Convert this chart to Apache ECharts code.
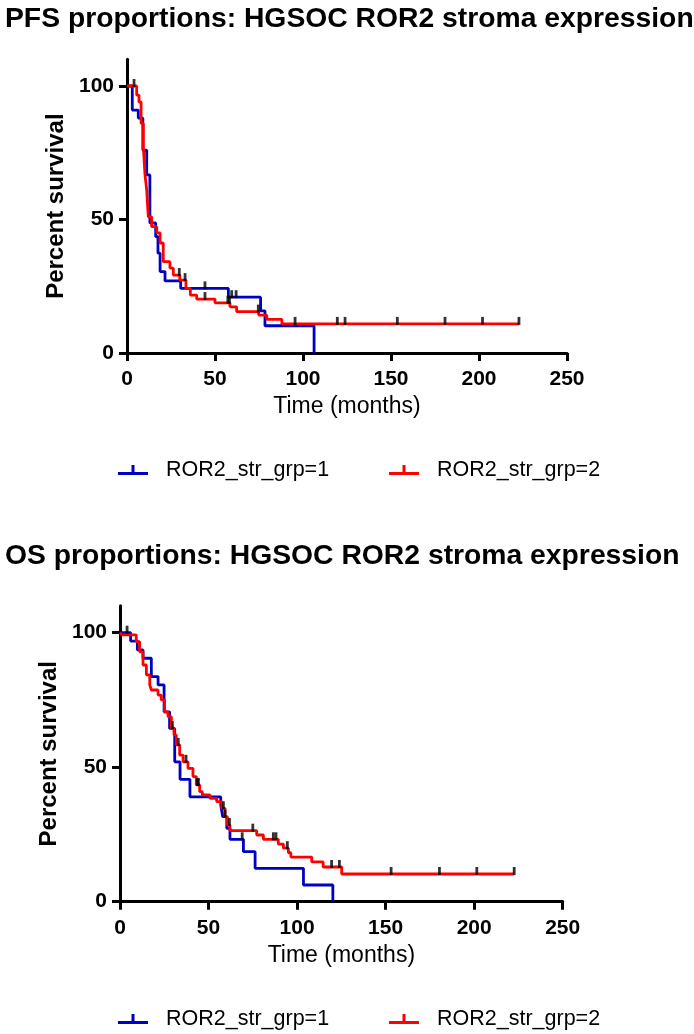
<!DOCTYPE html>
<html><head><meta charset="utf-8">
<script src="https://cdn.jsdelivr.net/npm/echarts@6/dist/echarts.min.js"></script>
<style>html,body{margin:0;padding:0;background:#fff}#c{width:694px;height:1034px}</style>
</head><body><div id="c"></div>
<script>
const pfsTitle = 'PFS proportions: HGSOC ROR2 stroma expression';
const osTitle = 'OS proportions: HGSOC ROR2 stroma expression';
const groupNames = ['ROR2_str_grp=1', 'ROR2_str_grp=2'];
const xAxisName = 'Time (months)';
const yAxisName = 'Percent survival';
const yTickValues = [0, 50, 100];

// PFS, group 1 (blue): [time, survival after drop]
const pfsGrp1 = [[0,100],[3,91],[6.4,88],[9,76],[11.2,66.7],[13,48.7],[16.3,43.6],[17.6,37.4],[18.8,30.5],[21.6,27],[30.5,24.2],[57.6,20.9],[75.9,15.8],[78.4,10.2],[106.3,0]];
const pfsGrp1Censor = [44.3, 59.5, 62];
// PFS, group 2 (red)
const pfsGrp2 = [[0,100],[5.5,96.6],[6.8,94],[8,86],[9.3,77],[10.2,67],[11.2,61],[12.1,51],[14,47.3],[16.9,45],[18.8,41.2],[20.6,34.2],[24.4,31.8],[26.3,29.2],[30,27.3],[33.5,24.2],[36,21.7],[39.6,20.2],[50,18.8],[58.5,17.3],[62.3,15.5],[74.8,14.2],[79.4,12.6],[88,10.9],[222.7,10.9]];
const pfsGrp2Censor = [4, 29.7, 33, 44.3, 57.3, 58.2, 74.6, 95.5, 119.5, 123.9, 153.6, 180.7, 202, 222.7];

// OS, group 1 (blue)
const osGrp1 = [[0,100],[6,96.9],[9.8,93.6],[13,90.5],[17.7,83.7],[21.5,80.6],[24.9,70.6],[28,64.4],[30.9,52],[33.9,45.5],[39.5,39],[56.9,35.9],[58,31.6],[60.3,27.3],[62.1,23.2],[69.7,18.6],[76.3,12.4],[103.6,6.2],[120.2,0]];
const osGrp1Censor = [4, 69];
// OS, group 2 (red)
const osGrp2 = [[0,100],[1,99.2],[7.3,99.2],[9.2,96.7],[11.1,92.9],[13,88],[14.9,84.3],[16.8,80.6],[17.7,78.7],[21.5,76.8],[23.3,75],[25.2,70.6],[27.1,68.8],[29,64.5],[30.5,62],[31.8,58.3],[33.7,54.5],[35.6,52],[38.4,49.6],[41.2,46.5],[43.1,43.4],[45,40.9],[46.5,39.7],[50.8,38.4],[54.6,37.2],[57.5,34.7],[59.3,31.6],[60.6,28.5],[62.1,26.4],[77.2,24.8],[81,23.2],[89.4,21.4],[92.3,19.9],[95.1,18.2],[96.5,16.6],[108.3,14.8],[114.7,12.9],[125.2,10.3],[222.6,10.3]];
const osGrp2Censor = [29.6, 32.9, 37.3, 43.7, 44.3, 58.4, 59.3, 61.8, 75, 86.6, 88.1, 94.5, 119.5, 123.9, 153.1, 180.4, 201.5, 222.6];

const BLUE = '#0000c0', RED = '#ff0000';
const FONT = 'Liberation Sans, Arial, sans-serif';

function levelAt(steps, t) {
  let s = steps[0][1];
  for (const p of steps) { if (p[0] <= t) s = p[1]; }
  return s;
}
function censorPoints(steps, times) { return times.map(t => [t, levelAt(steps, t)]); }

const grids = [
  {left: 127, width: 440, top: 59.3, height: 293.7},
  {left: 120, width: 442.7, top: 605.8, height: 295.9}
];
function xAx(i) {
  return {
    gridIndex: i, type: 'value', min: 0, max: 250, interval: 50,
    name: xAxisName, nameLocation: 'middle', nameGap: 42,
    nameTextStyle: {fontFamily: FONT, fontSize: 23, color: '#000'},
    axisLine: {show: true, lineStyle: {color: '#000', width: 3}},
    axisTick: {show: true, length: 8, lineStyle: {color: '#000', width: 3}},
    axisLabel: {fontFamily: FONT, fontSize: 21, fontWeight: 'bold', color: '#000', margin: 16},
    splitLine: {show: false}
  };
}
function yAx(i) {
  return {
    gridIndex: i, type: 'value', min: 0, max: 110,
    name: yAxisName, nameLocation: 'middle', nameGap: 53, nameRotate: 90,
    nameTextStyle: {fontFamily: FONT, fontSize: 24, fontWeight: 'bold', color: '#000'},
    axisLine: {show: true, lineStyle: {color: '#000', width: 3}},
    axisTick: {show: true, length: 8, customValues: yTickValues, lineStyle: {color: '#000', width: 3}},
    axisLabel: {fontFamily: FONT, fontSize: 21, fontWeight: 'bold', color: '#000', margin: 13, customValues: yTickValues},
    splitLine: {show: false}
  };
}
function stepSeries(name, data, color, i) {
  return {name, type: 'line', step: 'end', data, xAxisIndex: i, yAxisIndex: i,
    showSymbol: false, symbol: 'none', lineStyle: {color, width: 2.8}, itemStyle: {color},
    animation: false, silent: true};
}
function censorSeries(data, i) {
  return {name: 'censor' + i, type: 'scatter', data, xAxisIndex: i, yAxisIndex: i,
    symbol: 'rect', symbolSize: [2.8, 8], symbolOffset: [0, -3],
    itemStyle: {color: '#000'}, animation: false, silent: true, z: 5};
}
const legendIcon = 'path://M0,7h30v3h-30z M13.5,0h3v10h-3z';
function legendItem(name, left, top) {
  return {data: [name], left, top, icon: legendIcon, itemWidth: 30, itemHeight: 10,
    selectedMode: false,
    textStyle: {fontFamily: FONT, fontSize: 21.5, color: '#000', padding: [0, 0, 0, 13]}};
}

const chart = echarts.init(document.getElementById('c'), null, {renderer: 'canvas'});
chart.setOption({
  backgroundColor: '#fff',
  animation: false,
  title: [
    {text: pfsTitle, left: 0, top: 0, textStyle: {fontFamily: FONT, fontSize: 28.3, fontWeight: 'bold', color: '#000'}},
    {text: osTitle, left: 0, top: 537, textStyle: {fontFamily: FONT, fontSize: 28.3, fontWeight: 'bold', color: '#000'}}
  ],
  legend: [
    legendItem(groupNames[0], 113, 454),
    legendItem(groupNames[1], 384, 454),
    legendItem(groupNames[0], 113, 1003),
    legendItem(groupNames[1], 384, 1003)
  ],
  grid: grids,
  xAxis: [xAx(0), xAx(1)],
  yAxis: [yAx(0), yAx(1)],
  series: [
    stepSeries(groupNames[0], pfsGrp1, BLUE, 0),
    stepSeries(groupNames[1], pfsGrp2, RED, 0),
    censorSeries(censorPoints(pfsGrp1, pfsGrp1Censor).concat(censorPoints(pfsGrp2, pfsGrp2Censor)), 0),
    stepSeries(groupNames[0], osGrp1, BLUE, 1),
    stepSeries(groupNames[1], osGrp2, RED, 1),
    censorSeries(censorPoints(osGrp1, osGrp1Censor).concat(censorPoints(osGrp2, osGrp2Censor)), 1)
  ]
});
</script></body></html>
